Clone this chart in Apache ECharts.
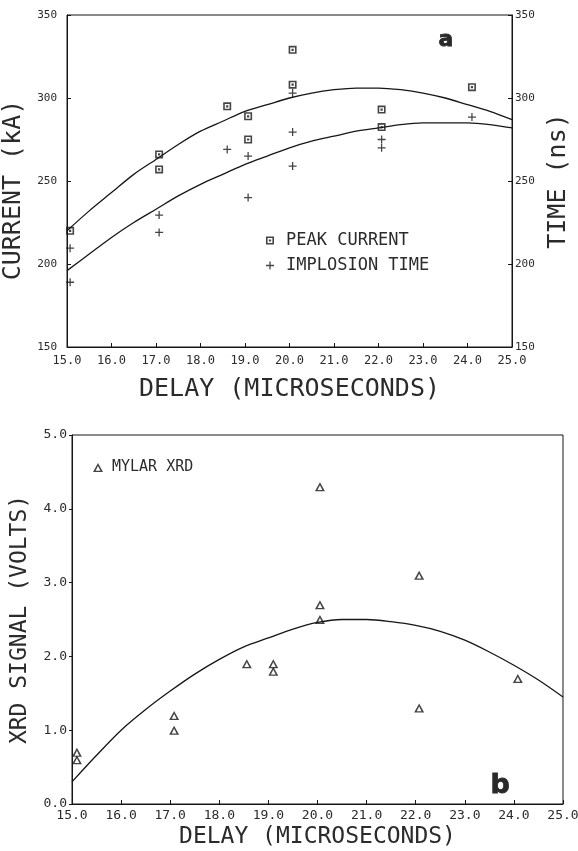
<!DOCTYPE html>
<html>
<head>
<meta charset="utf-8">
<title>Delay scans</title>
<script src="https://cdn.jsdelivr.net/npm/echarts@6/dist/echarts.min.js"></script>
<style>
  html, body { margin: 0; padding: 0; background: #fff; }
  #chart { width: 578px; height: 851px; }
</style>
</head>
<body>
<div id="chart"></div>
<script>
// Panel (a): peak current and implosion time versus delay
const peakDelay = [15.07, 17.07, 17.07, 18.6, 19.07, 19.07, 20.07, 20.07, 22.07, 22.07, 24.1];
const peakCurrent = [220, 266, 257, 295, 289, 275, 329, 308, 293, 282.5, 306.5];
const implosionDelay = [15.07, 15.07, 17.07, 17.07, 18.6, 19.07, 19.07, 20.07, 20.07, 20.07, 22.07, 22.07, 24.1];
const implosionTime = [209.5, 189, 229.5, 219, 269, 265, 240, 303, 279.5, 259, 275, 270, 288.5];

// Fitted curves, read every half microsecond
const fitDelay = [15, 15.5, 16, 16.5, 17, 17.5, 18, 18.5, 19, 19.5, 20, 20.5, 21, 21.5, 22, 22.5, 23, 23.5, 24, 24.5, 25];
const currentFit = [220, 232, 243, 254, 263, 272, 280, 286, 292, 296, 300, 303, 305, 306, 306, 305, 303, 300, 296, 292, 287];
const timeFit = [196, 206, 216, 225, 233, 241, 248, 254, 260, 265, 270, 274, 277, 280, 282, 284, 285, 285, 285, 284, 282];

// Panel (b): Mylar XRD signal versus delay
const xrdDelay = [15.1, 15.1, 17.08, 17.08, 18.56, 19.1, 19.1, 20.05, 20.05, 20.05, 22.07, 22.07, 24.08];
const xrdSignal = [0.7, 0.6, 1.2, 1.0, 1.9, 1.9, 1.8, 4.3, 2.7, 2.5, 3.1, 1.3, 1.7];
const xrdFit = [0.3, 0.66, 1.0, 1.28, 1.53, 1.76, 1.96, 2.13, 2.25, 2.37, 2.46, 2.5, 2.5, 2.47, 2.42, 2.34, 2.22, 2.06, 1.88, 1.68, 1.45];

// Axis text
const delayTitle = 'DELAY (MICROSECONDS)';
const currentTitle = 'CURRENT (kA)';
const timeTitle = 'TIME (ns)';
const xrdTitle = 'XRD SIGNAL (VOLTS)';

const INK = '#161616';
const TEXT = '#2b2b2b';
const MONO = '"DejaVu Sans Mono", "Liberation Mono", monospace';

// Plotter-style markers
const SQUARE = 'path://M0,0H10V10H0Z M2,2V8H8V2Z M3.6,3.6H6.4V6.4H3.6Z';
const PLUS = 'path://M4.2,0H5.8V4.2H10V5.8H5.8V10H4.2V5.8H0V4.2H4.2Z';
const TRIANGLE = 'path://M5,0L10,9H0Z M5,3L2.6,7.8H7.4Z';

const pairs = (xs, ys) => xs.map((x, i) => [x, ys[i]]);

const chart = echarts.init(document.getElementById('chart'), null, { renderer: 'canvas' });

const xAxisBase = {
  type: 'value', min: 15, max: 25, interval: 1,
  axisLine: { show: true, lineStyle: { color: INK, width: 1 } },
  axisTick: { show: true, inside: true, length: 4, lineStyle: { color: INK } },
  splitLine: { show: false },
  nameLocation: 'middle',
  axisLabel: { color: TEXT, fontFamily: MONO, fontSize: 12, formatter: v => v.toFixed(1) }
};

const gridBase = {
  show: true, borderColor: INK, borderWidth: 1, backgroundColor: 'transparent',
  containLabel: false, outerBoundsMode: 'none'
};

chart.setOption({
  backgroundColor: '#fff',
  animation: false,
  grid: [
    Object.assign({ left: 67, top: 15, width: 445, height: 332 }, gridBase),
    Object.assign({ left: 72, top: 435, width: 491, height: 369 }, gridBase)
  ],
  xAxis: [
    Object.assign({}, xAxisBase, {
      gridIndex: 0, name: delayTitle, nameGap: 30,
      nameTextStyle: { fontFamily: MONO, color: TEXT, fontSize: 25 },
      axisLabel: Object.assign({}, xAxisBase.axisLabel, { margin: 8 })
    }),
    Object.assign({}, xAxisBase, {
      gridIndex: 1, name: delayTitle, nameGap: 22,
      nameTextStyle: { fontFamily: MONO, color: TEXT, fontSize: 23 },
      axisLabel: Object.assign({}, xAxisBase.axisLabel, { margin: 5, fontSize: 13 })
    })
  ],
  yAxis: [
    {
      type: 'value', gridIndex: 0, position: 'left', min: 150, max: 350, interval: 50,
      name: currentTitle, nameLocation: 'middle', nameGap: 30,
      nameTextStyle: { fontFamily: MONO, color: TEXT, fontSize: 25, padding: [0, 18, 0, 0] },
      axisLine: { show: true, lineStyle: { color: INK } },
      axisTick: { show: true, inside: true, length: 4, lineStyle: { color: INK } },
      splitLine: { show: false },
      axisLabel: { color: TEXT, fontFamily: MONO, fontSize: 11, margin: 10 }
    },
    {
      type: 'value', gridIndex: 0, position: 'right', min: 150, max: 350, interval: 50,
      name: timeTitle, nameLocation: 'middle', nameGap: 33,
      nameTextStyle: { fontFamily: MONO, color: TEXT, fontSize: 25 },
      axisLine: { show: true, lineStyle: { color: INK } },
      axisTick: { show: true, inside: true, length: 4, lineStyle: { color: INK } },
      splitLine: { show: false },
      axisLabel: { color: TEXT, fontFamily: MONO, fontSize: 11, margin: 3 }
    },
    {
      type: 'value', gridIndex: 1, position: 'left', min: 0, max: 5, interval: 1,
      name: xrdTitle, nameLocation: 'middle', nameGap: 40,
      nameTextStyle: { fontFamily: MONO, color: TEXT, fontSize: 23 },
      axisLine: { show: true, lineStyle: { color: INK } },
      axisTick: { show: true, inside: false, length: 3, lineStyle: { color: INK } },
      splitLine: { show: false },
      axisLabel: { color: TEXT, fontFamily: MONO, fontSize: 13, margin: 5, formatter: v => v.toFixed(1) }
    }
  ],
  legend: [
    {
      orient: 'vertical', left: 261, top: 227, itemWidth: 22, itemHeight: 8, itemGap: 8,
      data: ['PEAK CURRENT', 'IMPLOSION TIME'],
      textStyle: { fontFamily: MONO, fontSize: 17, color: TEXT },
      selectedMode: false
    },
    {
      orient: 'vertical', left: 88, top: 455, itemWidth: 18, itemHeight: 9,
      data: ['MYLAR XRD'],
      textStyle: { fontFamily: MONO, fontSize: 15, color: TEXT },
      selectedMode: false
    }
  ],
  series: [
    {
      type: 'line', xAxisIndex: 0, yAxisIndex: 0, smooth: 0.3, symbol: 'none',
      lineStyle: { color: INK, width: 1.3 }, data: pairs(fitDelay, currentFit), z: 2
    },
    {
      type: 'line', xAxisIndex: 0, yAxisIndex: 1, smooth: 0.3, symbol: 'none',
      lineStyle: { color: INK, width: 1.3 }, data: pairs(fitDelay, timeFit), z: 2
    },
    {
      name: 'PEAK CURRENT', type: 'scatter', xAxisIndex: 0, yAxisIndex: 0,
      symbol: SQUARE, symbolSize: 8, itemStyle: { color: INK },
      data: pairs(peakDelay, peakCurrent), z: 3
    },
    {
      name: 'IMPLOSION TIME', type: 'scatter', xAxisIndex: 0, yAxisIndex: 1,
      symbol: PLUS, symbolSize: 8, itemStyle: { color: INK },
      data: pairs(implosionDelay, implosionTime), z: 3
    },
    {
      type: 'line', xAxisIndex: 1, yAxisIndex: 2, smooth: 0.3, symbol: 'none',
      lineStyle: { color: INK, width: 1.3 }, data: pairs(fitDelay, xrdFit), z: 2
    },
    {
      name: 'MYLAR XRD', type: 'scatter', xAxisIndex: 1, yAxisIndex: 2,
      symbol: TRIANGLE, symbolSize: [10, 9], itemStyle: { color: INK },
      data: pairs(xrdDelay, xrdSignal), z: 3
    }
  ],
  graphic: [
    {
      type: 'text', left: 438, top: 29,
      style: { text: 'a', font: 'bold 22px "DejaVu Sans"', fill: '#2a2a2a', stroke: '#2a2a2a', lineWidth: 0.8 }
    },
    {
      type: 'text', left: 490, top: 772,
      style: { text: 'b', font: 'bold 27px "DejaVu Sans"', fill: '#2a2a2a', stroke: '#2a2a2a', lineWidth: 0.8 }
    }
  ]
});
</script>
</body>
</html>
